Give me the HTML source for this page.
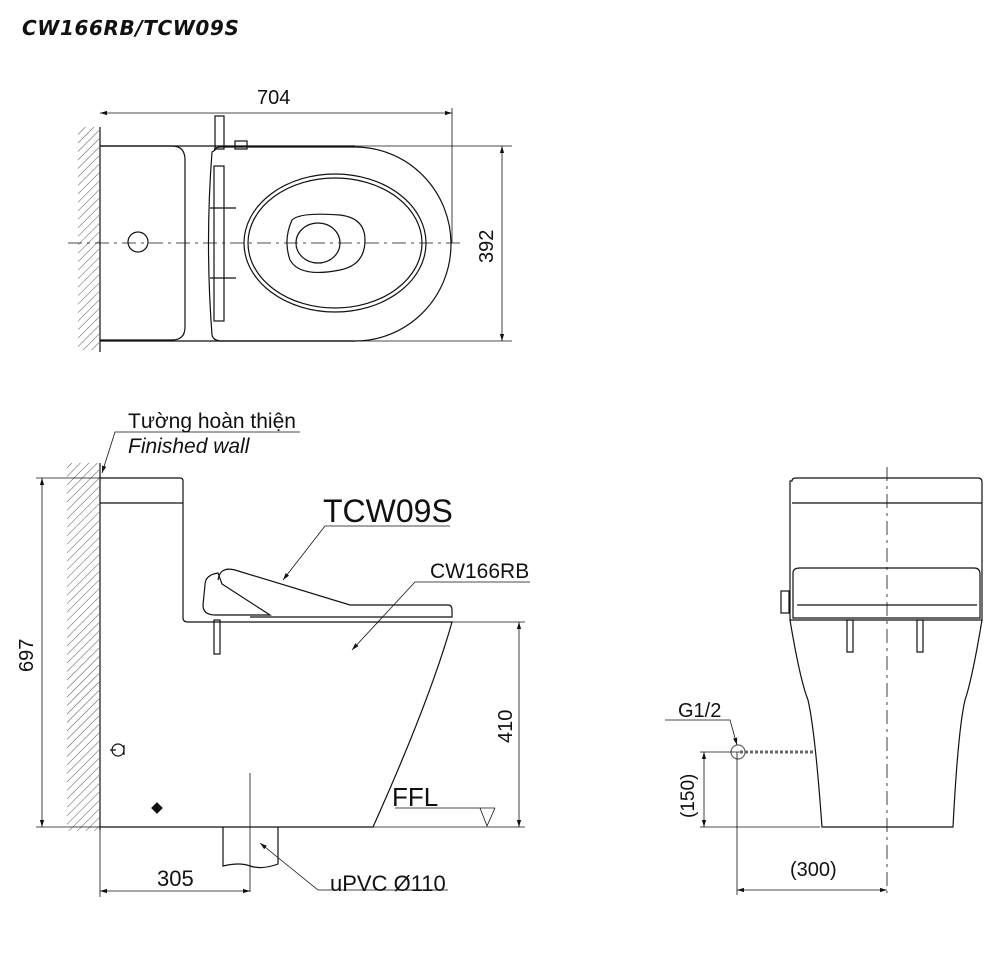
<!DOCTYPE html>
<html><head><meta charset="utf-8"><style>
body{margin:0;background:#fff}
svg{display:block}
text{font-family:"Liberation Sans",sans-serif;fill:#111}
</style></head><body>
<svg width="1000" height="963" viewBox="0 0 1000 963" xmlns="http://www.w3.org/2000/svg">
<defs>
<pattern id="h" width="6" height="6" patternUnits="userSpaceOnUse" patternTransform="rotate(45)">
<line x1="0" y1="0" x2="0" y2="6" stroke="#555" stroke-width="1"/></pattern>
<marker id="a" viewBox="0 0 10 10" refX="10" refY="5" markerWidth="9" markerHeight="9" orient="auto-start-reverse"><path d="M0,2 L10,5 L0,8 z" fill="#111"/></marker>
</defs>
<text x="22" y="35" style="font-family:'DejaVu Sans',sans-serif;font-weight:bold;font-style:italic;font-size:20px;letter-spacing:0.6px">CW166RB/TCW09S</text>

<g fill="none" stroke="#111" stroke-width="1.2">
<!-- TOP VIEW -->
<rect x="78" y="127" width="21" height="223" fill="url(#h)" stroke="none"/>
<line x1="100" y1="127" x2="100" y2="352"/>
<line x1="100" y1="113" x2="452" y2="113" stroke-width="0.8" marker-start="url(#a)" marker-end="url(#a)"/>
<line x1="452" y1="108" x2="452" y2="243" stroke-width="0.8"/>
<path d="M100,146 H172 Q185,146 185,160 V327 Q185,340 172,340 H100"/>
<path d="M100,146 H355 M100,341 H355"/>
<path d="M215,150 Q213,148 220,147 H355 A96,97 0 0 1 355,341 H220 Q213,340 212,335 Q205,243 212,152 z"/>
<rect x="214" y="166" width="10" height="155"/>
<rect x="215" y="116" width="9" height="33"/>
<rect x="235" y="141" width="12" height="8"/>
<line x1="210" y1="208" x2="236" y2="208"/><line x1="210" y1="278" x2="236" y2="278"/>
<ellipse cx="335" cy="243" rx="91" ry="69"/>
<ellipse cx="335" cy="243" rx="87" ry="65"/>
<path d="M292,220 Q300,212 340,215 Q365,218 365,240 Q365,265 340,270 Q300,278 290,260 Q283,240 292,220 z"/>
<ellipse cx="318" cy="243" rx="22" ry="20"/>
<circle cx="138" cy="242" r="10"/>
<line x1="68" y1="243" x2="460" y2="243" stroke-width="0.8" stroke-dasharray="14,5,3,5"/>
<line x1="355" y1="146" x2="512" y2="146" stroke-width="0.8"/>
<line x1="355" y1="341" x2="512" y2="341" stroke-width="0.8"/>
<line x1="502" y1="146" x2="502" y2="341" stroke-width="0.8" marker-start="url(#a)" marker-end="url(#a)"/>

<!-- SIDE VIEW -->
<rect x="67" y="463" width="32" height="368" fill="url(#h)" stroke="none"/>
<line x1="100" y1="463" x2="100" y2="830"/>
<path d="M100,478 H180 Q183,478 183,481 V618 Q183,622 188,622 H452 Q430,700 373,827 H100"/>
<line x1="100" y1="503" x2="183" y2="503"/>
<path d="M205,585 Q205,575 218,573 L222,584 L270,615 L215,615 Q203,615 203,605 z"/>
<path d="M218,580 Q220,566 235,570 Q300,590 350,605 H448 Q452,605 452,610 V617 H250"/>
<rect x="214" y="620" width="6" height="34"/>
<line x1="250" y1="773" x2="250" y2="892" stroke-width="0.8"/>
<path d="M223,827 V866 Q240,862 250,866 Q262,870 278,864 V827"/>
<path d="M110,750 h6 M124,745 v10" />
<circle cx="118" cy="750" r="6"/>
<path d="M157,803 l5,5 l-5,5 l-5,-5z" fill="#111"/>
<line x1="452" y1="622" x2="525" y2="622" stroke-width="0.8"/>
<line x1="373" y1="827" x2="525" y2="827" stroke-width="0.8"/>
<line x1="519" y1="622" x2="519" y2="827" stroke-width="0.8" marker-start="url(#a)" marker-end="url(#a)"/>
<line x1="36" y1="478" x2="100" y2="478" stroke-width="0.8"/>
<line x1="36" y1="827" x2="100" y2="827" stroke-width="0.8"/>
<line x1="42" y1="478" x2="42" y2="827" stroke-width="0.8" marker-start="url(#a)" marker-end="url(#a)"/>
<line x1="395" y1="808" x2="495" y2="808" stroke-width="0.8"/>
<path d="M480,808 L487,826 L495,808" stroke-width="0.8"/>
<line x1="100" y1="830" x2="100" y2="897" stroke-width="0.8"/>
<line x1="100" y1="891" x2="250" y2="891" stroke-width="0.8" marker-start="url(#a)" marker-end="url(#a)"/>
<path d="M448,890 H318 L260,843" stroke-width="0.8" marker-end="url(#a)"/>
<path d="M450,526 H325 L283,580" stroke-width="0.8" marker-end="url(#a)"/>
<path d="M530,582 H415 L352,650" stroke-width="0.8" marker-end="url(#a)"/>
<path d="M300,432 H115 L102,473" stroke-width="0.8" marker-end="url(#a)"/>

<!-- FRONT VIEW -->
<path d="M792,481 Q792,478 796,478 H978 Q982,478 982,482 V620 H790 V481z"/>
<line x1="792" y1="503" x2="982" y2="503"/>
<path d="M793,573 Q793,568 800,568 H974 Q980,568 980,574 V618 H793z" fill="#fff"/>
<line x1="797" y1="605" x2="977" y2="605"/>
<rect x="781" y="591" width="8" height="22"/>
<path d="M790,620 Q800,680 808,700 Q815,730 822,827 H953 Q958,730 965,700 Q972,680 982,620"/>
<rect x="847" y="620" width="6" height="32"/><rect x="917" y="620" width="6" height="32"/>
<line x1="887" y1="467" x2="887" y2="893" stroke-width="0.8" stroke-dasharray="14,5,3,5"/>
<path d="M740,752 H813" stroke-width="3" stroke="#666" stroke-dasharray="3,2"/>
<circle cx="738" cy="752" r="7" stroke="#666"/>
<path d="M665,720 H730 L737,745" stroke-width="0.8" marker-end="url(#a)"/>
<line x1="700" y1="752" x2="740" y2="752" stroke-width="0.8"/>
<line x1="700" y1="827" x2="820" y2="827" stroke-width="0.8"/>
<line x1="704" y1="752" x2="704" y2="827" stroke-width="0.8" marker-start="url(#a)" marker-end="url(#a)"/>
<line x1="737" y1="752" x2="737" y2="895" stroke-width="0.8"/>
<line x1="737" y1="890" x2="887" y2="890" stroke-width="0.8" marker-start="url(#a)" marker-end="url(#a)"/>
</g>

<text x="257" y="104" font-size="20">704</text>
<text x="0" y="0" font-size="20" transform="translate(493,263) rotate(-90)">392</text>
<text x="128" y="428" font-size="21">Tường hoàn thiện</text>
<text x="128" y="453" font-size="21" font-style="italic">Finished wall</text>
<text x="323" y="522" font-size="32">TCW09S</text>
<text x="430" y="578" font-size="21">CW166RB</text>
<text x="0" y="0" font-size="20" transform="translate(512,743) rotate(-90)">410</text>
<text x="0" y="0" font-size="20" transform="translate(33,672) rotate(-90)">697</text>
<text x="392" y="806" font-size="26">FFL</text>
<text x="157" y="886" font-size="22">305</text>
<text x="330" y="891" font-size="22">uPVC Ø110</text>
<text x="678" y="717" font-size="20">G1/2</text>
<text x="0" y="0" font-size="19" transform="translate(694,818) rotate(-90)">(150)</text>
<text x="790" y="876" font-size="20">(300)</text>
</svg>
</body></html>
